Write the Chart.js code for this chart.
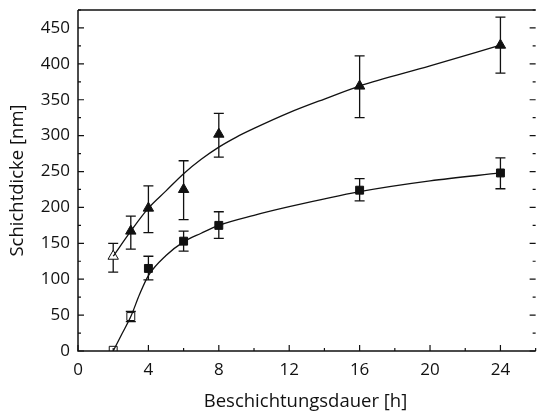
<!DOCTYPE html>
<html lang="de">
<head>
    <meta charset="UTF-8">
    <title>Schichtdicke</title>
    <script src="https://cdn.jsdelivr.net/npm/chart.js"></script>
    <style>
        body {
            margin: 0;
            background: #ffffff;
        }
        #wrap {
            width: 540px;
            height: 417px;
        }
    </style>
</head>
<body>
    <div id="wrap">
        <canvas id="chart"></canvas>
    </div>

    <script>
        // Messpunkte (x in h)
        const times = [2, 3, 4, 6, 8, 16, 24];

        // Dreiecke (obere Reihe)
        const triValues = [132, 167, 199, 225, 302, 369, 426];
        const triUpper  = [150, 188, 230, 265, 331, 411, 465];
        const triLower  = [110, 142, 165, 183, 270, 325, 387];
        const triHollow = [true, false, false, false, false, false, false];

        // Quadrate (untere Reihe)
        const sqValues = [1, 48, 115, 153, 175, 224, 248];
        const sqUpper  = [null, 55, 132, 167, 194, 240, 269];
        const sqLower  = [null, 41, 99, 139, 157, 209, 226];
        const sqHollow = [true, true, false, false, false, false, false];

        // Fitkurven
        const triFitX = [2, 3, 4, 5, 6, 7, 8, 9, 10, 12, 14, 16, 20, 24];
        const triFitY = [132, 167, 199, 223, 247, 267, 284, 298, 310, 332, 351, 369, 397, 426];
        const sqFitX = [2, 2.5, 3, 3.5, 4, 5, 6, 7, 8, 10, 12, 16, 20, 24];
        const sqFitY = [0, 24, 48, 79, 105, 133, 152, 164, 175, 189, 201, 222, 237, 248];

        const xTicks = [0, 2, 4, 6, 8, 10, 12, 14, 16, 18, 20, 22, 24];
        const yTicks = [0, 50, 100, 150, 200, 250, 300, 350, 400, 450];

        const FONT = '"Open Sans", "DejaVu Sans", sans-serif';
        const INK = '#111111';

        const toXY = (xs, ys) => xs.map((x, i) => ({ x: x, y: ys[i] }));

        // Rahmen, Ticks nach innen, Fehlerbalken
        const framePlugin = {
            id: 'frame',
            beforeDatasetsDraw(chart) {
                const { ctx, scales: { x, y } } = chart;
                ctx.save();
                ctx.strokeStyle = INK;
                ctx.lineWidth = 1.3;
                const bars = [
                    [triValues, triUpper, triLower],
                    [sqValues, sqUpper, sqLower]
                ];
                bars.forEach(([vals, hi, lo]) => {
                    times.forEach((t, i) => {
                        if (hi[i] === null) return;
                        const px = x.getPixelForValue(t);
                        const top = y.getPixelForValue(hi[i]);
                        const bot = y.getPixelForValue(lo[i]);
                        ctx.beginPath();
                        ctx.moveTo(px, top);
                        ctx.lineTo(px, bot);
                        ctx.moveTo(px - 5, top);
                        ctx.lineTo(px + 5, top);
                        ctx.moveTo(px - 5, bot);
                        ctx.lineTo(px + 5, bot);
                        ctx.stroke();
                    });
                });
                ctx.restore();
            },
            afterDraw(chart) {
                const { ctx, chartArea: a, scales: { x, y } } = chart;
                const right = x.getPixelForValue(26);
                ctx.save();
                ctx.strokeStyle = INK;
                ctx.lineWidth = 1.5;
                ctx.beginPath();
                ctx.moveTo(a.left, a.top);
                ctx.lineTo(right, a.top);
                ctx.moveTo(a.left, a.top);
                ctx.lineTo(a.left, a.bottom);
                ctx.lineTo(right, a.bottom);
                ctx.stroke();

                ctx.lineWidth = 1.2;
                ctx.beginPath();
                for (let v = 0; v <= 26; v += 2) {
                    const px = x.getPixelForValue(v);
                    const len = v % 4 === 0 ? 6 : 3;
                    ctx.moveTo(px, a.bottom);
                    ctx.lineTo(px, a.bottom - len);
                }
                for (let v = 0; v <= 475; v += 25) {
                    const py = y.getPixelForValue(v);
                    const len = v % 50 === 0 ? 6 : 3;
                    ctx.moveTo(a.left, py);
                    ctx.lineTo(a.left + len, py);
                    ctx.moveTo(right, py);
                    ctx.lineTo(right - len, py);
                }
                ctx.stroke();
                ctx.restore();
            }
        };

        const pointSet = (vals, hollow, style, r) => ({
            data: toXY(times, vals),
            showLine: false,
            pointStyle: style,
            pointRadius: r,
            pointHoverRadius: r,
            pointBorderWidth: 1,
            pointBorderColor: INK,
            pointBackgroundColor: hollow.map(h => h ? '#ffffff' : INK)
        });

        const fitSet = (xs, ys) => ({
            data: toXY(xs, ys),
            showLine: true,
            borderColor: INK,
            borderWidth: 1.3,
            pointRadius: 0,
            cubicInterpolationMode: 'monotone',
            fill: false
        });

        new Chart(document.getElementById('chart'), {
            type: 'scatter',
            data: {
                datasets: [
                    fitSet(triFitX, triFitY),
                    fitSet(sqFitX, sqFitY),
                    pointSet(triValues, triHollow, 'triangle', 6),
                    pointSet(sqValues, sqHollow, 'rect', 5.6)
                ]
            },
            options: {
                responsive: true,
                maintainAspectRatio: false,
                animation: false,
                layout: { padding: { top: 10, right: 0, left: 0, bottom: 0 } },
                plugins: {
                    legend: { display: false },
                    tooltip: { enabled: false }
                },
                scales: {
                    x: {
                        type: 'linear',
                        min: 0,
                        max: 25.85,
                        afterBuildTicks: s => { s.ticks = xTicks.map(v => ({ value: v })); },
                        afterFit: s => { s.height = 66; s.paddingLeft = 0; s.paddingRight = 0; },
                        grid: { display: false, drawTicks: false },
                        border: { display: false },
                        ticks: {
                            autoSkip: false,
                            maxRotation: 0,
                            padding: 9,
                            color: INK,
                            font: { family: FONT, size: 17 },
                            callback: v => (v % 4 === 0 ? v : '')
                        },
                        title: {
                            display: true,
                            text: 'Beschichtungsdauer [h]',
                            color: INK,
                            font: { family: FONT, size: 18.5 },
                            padding: { top: 7 }
                        }
                    },
                    y: {
                        type: 'linear',
                        min: 0,
                        max: 475,
                        afterBuildTicks: s => { s.ticks = yTicks.map(v => ({ value: v })); },
                        afterFit: s => { s.width = 78; s.paddingTop = 0; s.paddingBottom = 0; },
                        grid: { display: false, drawTicks: false },
                        border: { display: false },
                        ticks: {
                            padding: 8,
                            color: INK,
                            font: { family: FONT, size: 17 }
                        },
                        title: {
                            display: true,
                            text: 'Schichtdicke [nm]',
                            color: INK,
                            font: { family: FONT, size: 18.5 },
                            padding: { top: 7, bottom: 0 }
                        }
                    }
                }
            },
            plugins: [framePlugin]
        });
    </script>
</body>
</html>
